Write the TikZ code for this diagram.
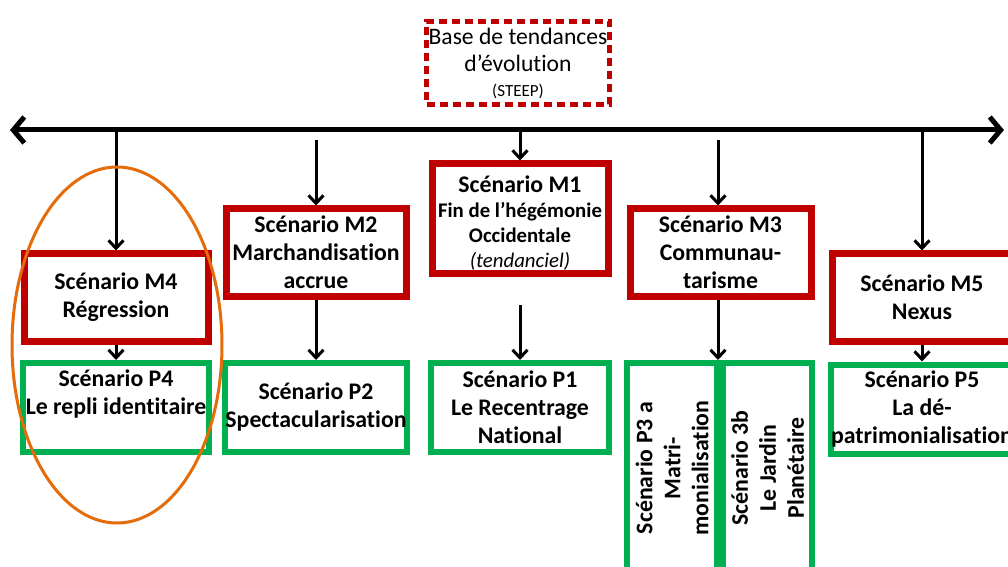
\documentclass[tikz,border=0pt]{standalone}
\usepackage{fontspec}
\setmainfont{Carlito}[Ligatures=NoCommon]
\usetikzlibrary{arrows.meta,positioning}

\definecolor{scenred}{RGB}{192,0,0}
\definecolor{scengreen}{RGB}{0,176,80}
\definecolor{focusorange}{RGB}{228,108,10}

\tikzset{
  boxfont/.style={font=\fontsize{11.9}{14}\selectfont\bfseries},
  mbox/.style={draw=scenred, line width=3.5pt, fill=white, align=center,
               inner sep=0pt, boxfont, minimum width=90pt, minimum height=43.5pt},
  pbox/.style={draw=scengreen, line width=3pt, fill=white, align=center,
               inner sep=0pt, boxfont, minimum width=91pt, minimum height=44.5pt},
  ptext/.style={align=center, inner sep=0pt, boxfont},
  trendbox/.style={draw=scenred, line width=2.5pt, dash pattern=on 4pt off 2.5pt,
               align=center, inner sep=0pt, font=\fontsize{11.8}{13.5}\selectfont,
               minimum width=91.5pt, minimum height=41.5pt},
  flow/.style={-{Straight Barb[length=4pt,width=7.5pt]}, line width=1.5pt},
  timeline/.style={{Straight Barb[length=5.5pt,width=13pt]}-{Straight Barb[length=5.5pt,width=13pt]},
               line width=2.5pt}
}

\begin{document}
\begin{tikzpicture}[x=0.5pt,y=-0.5pt]
  \useasboundingbox (0,0) rectangle (1008,567);
  \clip (0,0) rectangle (1008,567);

  % trend base and time axis
  \node[trendbox] (trend) at (518,63) {Base de tendances\\d’évolution\\[-1pt]{\fontsize{8.5}{10}\selectfont (STEEP)}};
  \coordinate (axl) at (10,130);
  \coordinate (axr) at (1004,130);
  \draw[timeline] (axl) -- (axr);

  % macro scenarios
  \node[mbox, minimum width=92pt] (m4) at (116,297.5) {Scénario M4\\Régression};
  \node[mbox] (m2) at (316,252.5) {Scénario M2\\Marchandisation\\accrue};
  \node[mbox, minimum width=88pt, minimum height=55pt] (m1) at (520,219) {};
  \node[ptext, font=\fontsize{10.4}{12.6}\selectfont\bfseries] (m1t) at (520,223)
       {{\fontsize{11.9}{12.6}\selectfont Scénario M1}\\Fin de l’hégémonie\\Occidentale\\{\mdseries\itshape (tendanciel)}};
  \node[mbox, minimum width=90.5pt] (m3) at (720.5,252.5) {Scénario M3\\Communau-\\tarisme};
  \node[mbox] (m5) at (922,297.5) {Scénario M5\\Nexus};

  % P scenarios
  \node[pbox, minimum width=93pt] (p4) at (116,407.5) {};
  \node[ptext] (p4t) at (116,394) {Scénario P4\\Le repli identitaire};
  \node[pbox] (p2) at (316,407.5) {Scénario P2\\Spectacularisation};
  \node[pbox, minimum width=89pt] (p1) at (520,407.5) {Scénario P1\\Le Recentrage\\National};
  \node[pbox, minimum width=45pt, minimum height=105pt] (p3a) at (672,468) {};
  \node[ptext, rotate=90] (p3at) at (p3a.center) {Scénario P3 a\\Matri-\\monialisation};
  \node[pbox, minimum width=44.5pt, minimum height=105pt] (p3b) at (767.5,468) {};
  \node[ptext, rotate=90] (p3bt) at (p3b.center) {Scénario 3b\\Le Jardin\\Planétaire};
  \node[pbox] (p5) at (922,409) {Scénario P5\\La dé-\\patrimonialisation};

  % arrows from the axis
  \coordinate (t4) at (116,130);
  \coordinate (t2) at (316,140);
  \coordinate (t1) at (520,130);
  \coordinate (t3) at (718,140);
  \coordinate (t5) at (922,130);
  \draw[flow] (t4) -- (m4);
  \draw[flow] (t2) -- (m2);
  \draw[flow] (t1) -- (m1);
  \draw[flow] (t3) -- (t3 |- m3.north);
  \draw[flow] (t5) -- (m5);

  % arrows down to the P scenarios
  \coordinate (p1src) at (520,305);
  \draw[flow] (m4) -- (p4);
  \draw[flow] (m2) -- (p2);
  \draw[flow] (p1src) -- (p1);
  \draw[flow] (t3 |- m3.south) -- (t3 |- p3a.north);
  \draw[flow] (m5) -- (p5);

  % highlight
  \draw[focusorange, line width=1.5pt] (117,345) ellipse [x radius=52.5pt, y radius=89pt];
\end{tikzpicture}
\end{document}
